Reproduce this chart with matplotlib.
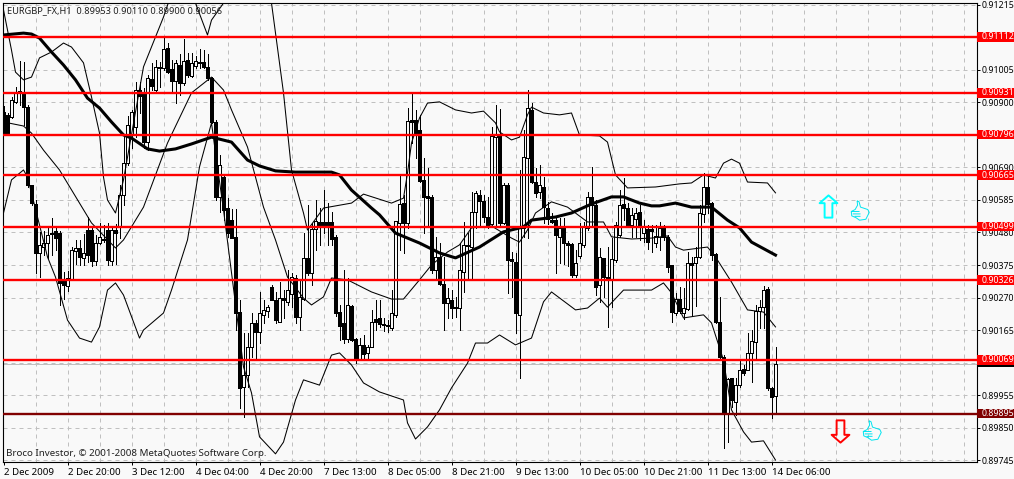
import matplotlib
matplotlib.use('Agg')
import matplotlib.pyplot as plt
from matplotlib.patches import Rectangle
from matplotlib.path import Path
from matplotlib.transforms import blended_transform_factory

# all prices in points, 1 point = 0.00001
opens = [90869, 90860, 90853, 90902, 90931, 90934, 90885, 90633, 90572, 90414,
         90433, 90446, 90475, 90485, 90478, 90323, 90307, 90330, 90420, 90430,
         90398, 90488, 90488, 90388, 90446, 90456, 90488, 90388, 90488, 90498,
         90601, 90704, 90795, 90821, 90940, 90934, 90772, 90976, 90940, 91011,
         91011, 91076, 91008, 90969, 91021, 90963, 91037, 90986, 91018, 91028,
         91031, 91015, 90979, 90837, 90595, 90659, 90559, 90520, 90466, 90223,
         89981, 90020, 90110, 90188, 90159, 90214, 90226, 90304, 90262, 90191,
         90268, 90256, 90281, 90333, 90207, 90265, 90398, 90349, 90491, 90514,
         90514, 90514, 90514, 90466, 90223, 90188, 90136, 90243, 90136, 90071,
         90117, 90091, 90110, 90201, 90204, 90181, 90178, 90172, 90214, 90511,
         90575, 90511, 90843, 90843, 90811, 90650, 90598, 90595, 90359, 90401,
         90314, 90252, 90262, 90236, 90236, 90352, 90436, 90433, 90546, 90601,
         90582, 90530, 90507, 90788, 90795, 90511, 90633, 90394, 90385, 90214,
         90495, 90721, 90876, 90643, 90611, 90627, 90559, 90520, 90520, 90466,
         90495, 90446, 90443, 90343, 90404, 90440, 90495, 90595, 90569, 90310,
         90398, 90336, 90327, 90391, 90472, 90572, 90559, 90504, 90524, 90546,
         90478, 90491, 90491, 90446, 90466, 90495, 90466, 90375, 90220, 90265,
         90220, 90233, 90381, 90381, 90401, 90540, 90627, 90575, 90411, 90191,
         90078, 89897, 90010, 89933, 89987, 90039, 90036, 90091, 90126, 90226,
         90239, 90298, 89978, 89953]
closes = [90801, 90801, 90908, 90934, 90937, 90885, 90633, 90575, 90414, 90440,
          90446, 90472, 90478, 90462, 90317, 90310, 90333, 90423, 90430, 90401,
          90414, 90407, 90388, 90446, 90466, 90459, 90391, 90488, 90478, 90601,
          90704, 90827, 90869, 90940, 90921, 90772, 90979, 90953, 91015, 91015,
          91073, 90998, 90969, 91028, 90963, 91034, 90989, 91028, 91034, 91031,
          91015, 90979, 90837, 90595, 90698, 90553, 90478, 90462, 90220, 89978,
          90020, 90110, 90188, 90159, 90220, 90230, 90239, 90262, 90197, 90268,
          90262, 90294, 90336, 90207, 90272, 90398, 90349, 90491, 90517, 90501,
          90498, 90498, 90459, 90220, 90178, 90136, 90246, 90133, 90071, 90117,
          90088, 90110, 90191, 90191, 90184, 90184, 90181, 90220, 90517, 90572,
          90511, 90840, 90837, 90801, 90646, 90595, 90591, 90359, 90401, 90314,
          90252, 90268, 90236, 90239, 90359, 90440, 90440, 90546, 90608, 90582,
          90530, 90501, 90792, 90795, 90511, 90633, 90391, 90388, 90220, 90495,
          90724, 90882, 90643, 90608, 90633, 90562, 90524, 90514, 90472, 90495,
          90446, 90440, 90343, 90381, 90446, 90498, 90595, 90569, 90304, 90401,
          90336, 90327, 90394, 90504, 90569, 90559, 90504, 90537, 90543, 90498,
          90498, 90449, 90485, 90469, 90495, 90466, 90369, 90223, 90265, 90226,
          90236, 90381, 90375, 90401, 90543, 90627, 90572, 90407, 90191, 90078,
          89897, 90007, 89939, 89987, 90036, 90026, 90091, 90130, 90226, 90239,
          90294, 89978, 89949, 90056]
highs = [90889, 90866, 90918, 90950, 91034, 91031, 90892, 90633, 90585, 90482,
         90485, 90498, 90527, 90498, 90485, 90352, 90356, 90433, 90456, 90456,
         90475, 90530, 90498, 90472, 90511, 90504, 90511, 90501, 90507, 90633,
         90795, 90856, 90876, 90966, 90966, 90947, 90989, 91028, 91037, 91031,
         91111, 91092, 91037, 91037, 91057, 91105, 91060, 91060, 91050, 91073,
         91070, 91057, 90982, 90843, 90730, 90666, 90591, 90556, 90556, 90262,
         90155, 90155, 90220, 90197, 90288, 90262, 90246, 90310, 90288, 90320,
         90294, 90359, 90349, 90343, 90327, 90478, 90569, 90511, 90585, 90559,
         90617, 90575, 90546, 90472, 90246, 90359, 90333, 90246, 90139, 90139,
         90149, 90117, 90230, 90262, 90262, 90204, 90197, 90294, 90517, 90663,
         90601, 90882, 90931, 90876, 90860, 90721, 90688, 90601, 90466, 90446,
         90401, 90301, 90294, 90272, 90446, 90514, 90478, 90611, 90614, 90617,
         90601, 90595, 90821, 90892, 90879, 90640, 90640, 90417, 90414, 90682,
         90811, 90940, 90898, 90688, 90698, 90659, 90579, 90543, 90527, 90527,
         90527, 90453, 90446, 90423, 90511, 90514, 90611, 90692, 90585, 90430,
         90398, 90433, 90462, 90514, 90617, 90656, 90575, 90559, 90559, 90569,
         90520, 90504, 90504, 90504, 90514, 90504, 90472, 90375, 90285, 90304,
         90301, 90417, 90401, 90433, 90569, 90672, 90666, 90579, 90414, 90272,
         90084, 90010, 90010, 90010, 90065, 90052, 90155, 90165, 90246, 90262,
         90307, 90304, 89981, 90110]
lows = [90795, 90798, 90850, 90898, 90892, 90827, 90627, 90569, 90349, 90336,
        90407, 90398, 90407, 90423, 90246, 90265, 90291, 90330, 90378, 90375,
        90375, 90385, 90372, 90375, 90443, 90449, 90375, 90375, 90378, 90462,
        90569, 90698, 90753, 90788, 90866, 90753, 90746, 90940, 90934, 90950,
        91005, 90995, 90934, 90898, 90924, 90956, 90982, 90982, 91011, 91011,
        91011, 90973, 90834, 90585, 90546, 90520, 90466, 90462, 90165, 89913,
        89884, 89981, 90078, 90068, 90123, 90188, 90207, 90262, 90188, 90191,
        90204, 90246, 90239, 90188, 90165, 90262, 90343, 90310, 90423, 90440,
        90478, 90440, 90440, 90210, 90133, 90123, 90126, 90130, 90058, 90068,
        90075, 90075, 90110, 90165, 90175, 90162, 90159, 90165, 90207, 90423,
        90414, 90495, 90769, 90721, 90643, 90478, 90504, 90349, 90327, 90310,
        90165, 90204, 90204, 90207, 90165, 90288, 90333, 90333, 90495, 90498,
        90514, 90495, 90498, 90504, 90504, 90507, 90285, 90272, 90155, 90010,
        90466, 90462, 90640, 90595, 90591, 90511, 90507, 90511, 90349, 90381,
        90378, 90372, 90336, 90336, 90398, 90433, 90488, 90498, 90278, 90256,
        90272, 90175, 90239, 90385, 90466, 90520, 90498, 90466, 90466, 90456,
        90449, 90427, 90417, 90433, 90423, 90456, 90352, 90191, 90214, 90220,
        90201, 90230, 90210, 90243, 90398, 90514, 90543, 90391, 90188, 90075,
        89784, 89803, 89916, 89891, 89981, 90020, 90052, 89997, 90068, 90172,
        90172, 89971, 89881, 89900]

ma_bars = [0, 5, 7, 9, 12, 15, 18, 21, 24, 27, 30, 32, 36, 39, 43, 47, 52, 57, 61, 64, 68, 73, 82, 84, 87, 92, 94, 98,
           104, 109, 113, 119, 125, 130, 132, 138, 142, 147, 152, 155, 159, 162, 164, 168, 172, 177, 181, 184, 187, 193]
ma_vals = [91118, 91124, 91121, 91108, 91063, 91021, 90973, 90914, 90882, 90837, 90795, 90785, 90750, 90743, 90750,
           90766, 90788, 90772, 90714, 90695, 90679, 90675, 90675, 90666, 90617, 90559, 90537, 90478, 90446, 90414,
           90398, 90433, 90482, 90498, 90520, 90530, 90543, 90572, 90595, 90595, 90575, 90566, 90566, 90575, 90562,
           90562, 90520, 90495, 90449, 90407]

upper_bars = [0, 2, 3, 5, 7, 9, 12, 15, 17, 20, 22, 24, 25, 26, 28, 30, 35, 40, 44, 48, 51, 52, 55, 60, 67, 70, 72, 75,
              76, 80, 87, 90, 97, 100, 101, 102, 104, 106, 109, 113, 117, 120, 123, 124, 127, 129, 131, 132, 135, 139,
              142, 144, 149, 151, 153, 156, 163, 169, 172, 175, 178, 180, 182, 184, 186, 191, 193]
upper_vals = [91199, 91069, 90998, 90973, 90982, 91044, 91063, 91092, 91079, 91028, 90918, 90801, 90659, 90585, 90543,
              90650, 91015, 91176, 91328, 91221, 91118, 91166, 91221, 91392, 91221, 90931, 90682, 90543, 90488, 90559,
              90575, 90604, 90575, 90591, 90672, 90769, 90850, 90898, 90902, 90876, 90866, 90872, 90834, 90805, 90779,
              90788, 90860, 90885, 90866, 90860, 90866, 90795, 90792, 90772, 90666, 90624, 90627, 90637, 90640, 90666,
              90656, 90704, 90717, 90704, 90643, 90640, 90608]

mid_bars = [0, 5, 7, 10, 14, 19, 22, 28, 30, 35, 41, 47, 52, 55, 57, 61, 65, 68, 71, 75, 77, 80, 82, 86, 92, 97, 100,
            104, 107, 111, 114, 117, 122, 127, 129, 131, 133, 137, 141, 146, 150, 152, 157, 162, 166, 168, 170, 176,
            178, 182, 186, 190, 193]
mid_vals = [90837, 90824, 90801, 90746, 90682, 90575, 90511, 90430, 90456, 90562, 90769, 90931, 90982, 90940, 90876,
            90756, 90562, 90456, 90336, 90268, 90246, 90272, 90333, 90327, 90288, 90265, 90265, 90327, 90375, 90417,
            90440, 90495, 90501, 90462, 90449, 90488, 90543, 90579, 90562, 90514, 90514, 90466, 90459, 90462, 90469,
            90433, 90423, 90433, 90401, 90320, 90230, 90223, 90175]

lower_bars = [0, 2, 5, 6, 11, 13, 16, 19, 22, 24, 26, 28, 30, 34, 35, 40, 42, 46, 49, 52, 53, 55, 60, 62, 64, 68, 70,
              73, 75, 79, 82, 84, 87, 90, 94, 100, 101, 103, 106, 109, 112, 116, 118, 121, 124, 128, 132, 135, 137,
              143, 146, 149, 151, 155, 162, 165, 167, 170, 175, 177, 180, 182, 185, 187, 190, 193]
lower_vals = [90543, 90650, 90682, 90659, 90401, 90336, 90197, 90139, 90126, 90175, 90294, 90317, 90278, 90139, 90165,
              90220, 90294, 90456, 90692, 90834, 90737, 90553, 90046, 89962, 89820, 89765, 89803, 89939, 90004, 89987,
              90084, 90091, 90052, 89994, 89965, 89939, 89865, 89813, 89852, 89907, 89978, 90058, 90123, 90123, 90149,
              90117, 90139, 90256, 90288, 90230, 90236, 90268, 90239, 90294, 90294, 90317, 90285, 90204, 90214, 90188,
              90068, 89907, 89836, 89803, 89807, 89745]

level_prices = [91112, 90931, 90796, 90665, 90499, 90326, 90069, 89895]
level_labels = ['0.91112', '0.90931', '0.90796', '0.90665', '0.90499', '0.90326', '0.90069', '0.89895']
level_colors = ['#ff0000'] * 7 + ['#800000']
last_price = 90056

y_ticks = [91215, 91110, 91005, 90900, 90795, 90690, 90585, 90480, 90375, 90270, 90165, 90060, 89955, 89850, 89745]
y_labels = ['0.91215', '0.91110', '0.91005', '0.90900', '0.90795', '0.90690', '0.90585', '0.90480', '0.90375',
            '0.90270', '0.90165', '0.90060', '0.89955', '0.89850', '0.89745']
x_tick_bars = [0, 16, 32, 48, 64, 80, 96, 112, 128, 144, 160, 176, 192]
x_labels = ['2 Dec 2009', '2 Dec 20:00', '3 Dec 12:00', '4 Dec 04:00', '4 Dec 20:00', '7 Dec 13:00', '8 Dec 05:00',
            '8 Dec 21:00', '9 Dec 13:00', '10 Dec 05:00', '10 Dec 21:00', '11 Dec 13:00', '14 Dec 06:00']

up_arrow_at = (206, 90566)
down_arrow_at = (209, 89839)
thumb_bars = [214, 217]
thumb_prices = [90553, 89842]

W, H = 1014, 479
BG = '#f9f9f9'
FONT = 'Noto Sans'
FS = 7.0
FS_PRICE = 6.35
FS_TITLE = 6.65
PT = 1e-5

plt.rcParams['font.family'] = FONT

fig = plt.figure(figsize=(W / 100, H / 100), dpi=100, facecolor=BG)
ax = fig.add_axes([2.5 / W, 1 - 462 / H, 974 / W, 459.5 / H], facecolor=BG)
ax.set_xlim(-0.25, 243.25)
ax.set_ylim(89738.7 * PT, 91222.9 * PT)
ax.set_axisbelow(True)

# grid
for b in range(8, 241, 8):
    ax.axvline(b, color='#c0c0c0', lw=0.72, ls=(0, (4, 4)), zorder=1)
for t in y_ticks:
    ax.axhline(t * PT, color='#c0c0c0', lw=0.72, ls=(0, (4, 4)), zorder=1)
ax.axhline(last_price * PT, color='#c0c0c0', lw=0.72, zorder=1)

# candles
for i in range(len(opens)):
    ax.vlines(i, lows[i] * PT, highs[i] * PT, color='black', lw=0.72, antialiased=False, zorder=3)
    top = max(opens[i], closes[i]) * PT
    bot = min(opens[i], closes[i]) * PT
    face = 'black' if closes[i] < opens[i] else BG
    ax.add_patch(Rectangle((i - 0.27, bot), 0.54, top - bot, facecolor=face, edgecolor='black',
                           lw=0.72, antialiased=False, zorder=4))

# indicators
ax.plot(upper_bars, [v * PT for v in upper_vals], color='black', lw=0.75, zorder=5)
ax.plot(mid_bars, [v * PT for v in mid_vals], color='black', lw=0.75, zorder=5)
ax.plot(lower_bars, [v * PT for v in lower_vals], color='black', lw=0.75, zorder=5)
ax.plot(ma_bars, [v * PT for v in ma_vals], color='black', lw=2.2, zorder=6)

# horizontal levels
for p, c in zip(level_prices, level_colors):
    ax.axhline(p * PT, color=c, lw=1.7, zorder=7)

# axes look
for s in ax.spines.values():
    s.set_linewidth(0.8)
    s.set_color('black')
ax.yaxis.tick_right()
ax.set_yticks([t * PT for t in y_ticks])
ax.set_yticklabels(y_labels, fontsize=FS_PRICE, color='black')
ax.tick_params(axis='y', length=2.2, width=0.72, pad=1.7)
ax.set_xticks(x_tick_bars)
ax.set_xticklabels(x_labels, fontsize=FS, color='black', ha='left')
ax.tick_params(axis='x', length=2.2, width=0.72, pad=1.8)

# price boxes on the axis
trans = blended_transform_factory(ax.transAxes, ax.transData)
box_h = 15.5 * PT
ax.add_patch(Rectangle((1.0005, (last_price - 12) * PT), 0.04, 2 * box_h * 0.85, facecolor='black', edgecolor='none',
                       transform=trans, clip_on=False, zorder=9))
for p, c, lab in zip(level_prices, level_colors, level_labels):
    ax.add_patch(Rectangle((1.0005, p * PT - box_h), 0.04, 2 * box_h, facecolor=c, edgecolor='none',
                           transform=trans, clip_on=False, zorder=10))
    ax.text(1.0052, p * PT, lab, transform=trans, fontsize=FS_PRICE, color='white', va='center', ha='left',
            clip_on=False, zorder=11)

ax.text(0.0045, 0.9825, 'EURGBP_FX,H1  0.89953 0.90110 0.89900 0.90056', transform=ax.transAxes,
        fontsize=FS_TITLE, color='#202020', va='center', ha='left', zorder=8)
ax.text(0.0035, 0.0195, 'Broco Investor, \u00a9 2001-2008 MetaQuotes Software Corp.', transform=ax.transAxes,
        fontsize=FS, color='#202020', va='center', ha='left', zorder=8)

# signal arrows and thumbs
up_arrow = Path([(0, 1), (0.8, 0.3), (0.35, 0.3), (0.35, -1), (-0.35, -1), (-0.35, 0.3), (-0.8, 0.3), (0, 1)], closed=True)
down_arrow = Path([(0, -1), (0.8, -0.3), (0.35, -0.3), (0.35, 1), (-0.35, 1), (-0.35, -0.3), (-0.8, -0.3), (0, -1)], closed=True)
thumb_verts = [(-0.35, 1), (-0.15, 0.9), (0.0, 0.35), (0.75, 0.1), (0.9, -0.2), (0.55, -0.9), (-0.1, -1), (-0.45, -0.75),
               (-0.9, -0.55), (-0.95, -0.1), (-0.55, 0.1), (-0.3, 0.55), (-0.35, 1),
               (-0.9, -0.1), (-0.1, -0.1), (-0.8, -0.35), (0, -0.35), (-0.6, -0.6), (0, -0.6)]
thumb_codes = [Path.MOVETO] + [Path.LINETO] * 12 + [Path.MOVETO, Path.LINETO] * 3
thumb = Path(thumb_verts, thumb_codes)
ax.plot([up_arrow_at[0]], [up_arrow_at[1] * PT], marker=up_arrow, ms=16, mfc='none', mec='#00ffff', mew=1.4,
        ls='none', zorder=8)
ax.plot([down_arrow_at[0]], [down_arrow_at[1] * PT], marker=down_arrow, ms=16, mfc='none', mec='#ff0000', mew=1.4,
        ls='none', zorder=8)
ax.plot(thumb_bars, [v * PT for v in thumb_prices], marker=thumb, ms=14, mfc='none', mec='#00e5f0', mew=0.7,
        ls='none', zorder=8)

fig.savefig('out.png', dpi=100, facecolor=BG)
